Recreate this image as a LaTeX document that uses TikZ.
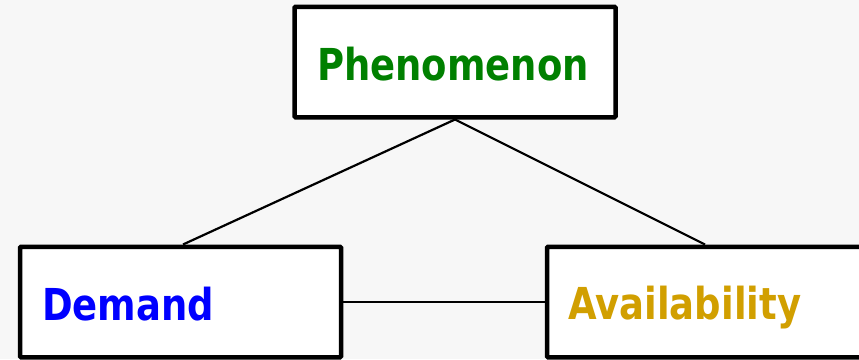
\documentclass[tikz,border=0pt]{standalone}
\usepackage{fontspec}
\newfontfamily\boxfont[FakeStretch=0.84]{DejaVu Sans Bold}
\definecolor{bg}{RGB}{247,247,247}
\definecolor{phen}{RGB}{0,128,0}
\definecolor{dem}{RGB}{0,0,255}
\definecolor{avail}{RGB}{209,159,0}
\tikzset{
  box/.style={draw=black, fill=white, line width=4.5pt, rounded corners=1pt, minimum width=321pt, minimum height=110.5pt, inner sep=0pt},
  lbl/.style={font=\boxfont\fontsize{44pt}{50pt}\selectfont, inner sep=0pt},
  link/.style={draw=black, line width=2.2pt}
}
\begin{document}
\begin{tikzpicture}[x=1pt,y=-1pt]
\useasboundingbox (0,0) rectangle (859,359);
\clip (0,0) rectangle (859,359);
\fill[bg] (0,0) rectangle (859,359);
\node[box] (phen) at (455,62) {};
\node[box] (demand) at (180.5,302) {};
\node[box] (avail) at (707.5,302) {};
\draw[link] (phen.south) -- (demand.north -| 183,0);
\draw[link] (phen.south) -- (avail.north -| 705,0);
\draw[link] (demand.east) -- (avail.west);
\node[lbl, text=phen, anchor=base] (phenl) at (453,80) {Phenomenon};
\node[lbl, text=dem, anchor=base west] (demandl) at (42,320) {Demand};
\node[lbl, text=avail, anchor=base west] (availl) at (568,319) {Availability};
\end{tikzpicture}
\end{document}
